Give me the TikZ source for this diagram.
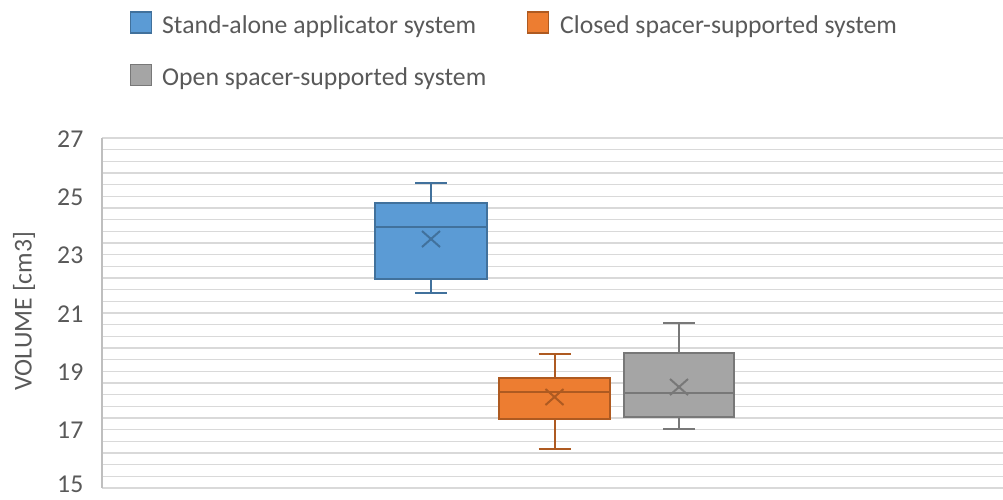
\documentclass[tikz,border=0pt]{standalone}
\usepackage{fontspec}
\setmainfont{Carlito}
\definecolor{txt}{HTML}{595959}
\definecolor{gridc}{HTML}{D9D9D9}
\definecolor{axisc}{HTML}{BFBFBF}
\definecolor{bfill}{HTML}{5B9BD5}
\definecolor{bdraw}{HTML}{41719C}
\definecolor{ofill}{HTML}{ED7D31}
\definecolor{odraw}{HTML}{AE5A21}
\definecolor{gfill}{HTML}{A5A5A5}
\definecolor{gdraw}{HTML}{787878}
\tikzset{
  lab/.style={inner sep=0pt, text=txt, font=\fontsize{25.7}{30}\selectfont},
  legsq/.style={minimum width=21pt, minimum height=21pt, inner sep=0pt, line width=1.2pt},
  boxline/.style={line width=2pt},
  gridline/.style={gridc, line width=1.6pt},
}
\begin{document}
\begin{tikzpicture}[x=1pt,y=-1pt]
\useasboundingbox (0,0) rectangle (1003,499);
% grid
\foreach \i in {0,...,30} {
  \draw[gridline] (102,{138+\i*350/30}) -- (1003,{138+\i*350/30});
}
\coordinate (axtop) at (102,138);
\coordinate (axbot) at (102,488);
\draw[axisc, line width=1.6pt] (axtop) -- (axbot);
% tick labels
\foreach \v/\yy in {27/139,25/197.3,23/255.7,21/314,19/372.3,17/430.7,15/484} {
  \node[lab, anchor=east] (t\v) at (83.5,\yy) {\v};
}
\node[lab, rotate=90] (ylab) at (24,311) {VOLUME [cm3]};
% legend
\node[legsq, fill=bfill, draw=bdraw] (lb) at (141,22.5) {};
\node[lab, anchor=base west] (lbt) at (162,33.3) {Stand-alone applicator system};
\node[legsq, fill=ofill, draw=odraw] (lo) at (538,22.5) {};
\node[lab, anchor=base west] (lot) at (560,33.3) {Closed spacer-supported system};
\node[legsq, fill=gfill, draw=gdraw] (lg) at (141,75) {};
\node[lab, anchor=base west] (lgt) at (162,85.8) {Open spacer-supported system};
% Blue
\coordinate (bwt) at (431,183);
\coordinate (bwb) at (431,293);
\draw[boxline, bdraw] (bwt) -- (431,203);
\draw[boxline, bdraw] (bwb) -- (431,279);
\draw[boxline, bdraw] (415,183) -- (447,183);
\draw[boxline, bdraw] (415,293) -- (447,293);
\draw[boxline, fill=bfill, draw=bdraw] (375,203) rectangle (487,279);
\draw[boxline, bdraw] (375,227) -- (487,227);
\coordinate (bm) at (431,239);
\draw[boxline, bdraw] ([shift={(-9,-8)}]bm) -- ([shift={(9,8)}]bm);
\draw[boxline, bdraw] ([shift={(-9,8)}]bm) -- ([shift={(9,-8)}]bm);
% Orange
\coordinate (owt) at (554.5,354);
\coordinate (owb) at (554.5,449);
\draw[boxline, odraw] (owt) -- (554.5,378);
\draw[boxline, odraw] (owb) -- (554.5,419);
\draw[boxline, odraw] (538.5,354) -- (570.5,354);
\draw[boxline, odraw] (538.5,449) -- (570.5,449);
\draw[boxline, fill=ofill, draw=odraw] (499,378) rectangle (610,419);
\draw[boxline, odraw] (499,392) -- (610,392);
\coordinate (om) at (554.5,397);
\draw[boxline, odraw] ([shift={(-9,-8)}]om) -- ([shift={(9,8)}]om);
\draw[boxline, odraw] ([shift={(-9,8)}]om) -- ([shift={(9,-8)}]om);
% Gray
\coordinate (gwt) at (679,323);
\coordinate (gwb) at (679,429);
\draw[boxline, gdraw] (gwt) -- (679,353);
\draw[boxline, gdraw] (gwb) -- (679,417);
\draw[boxline, gdraw] (663,323) -- (695,323);
\draw[boxline, gdraw] (663,429) -- (695,429);
\draw[boxline, fill=gfill, draw=gdraw] (624,353) rectangle (734,417);
\draw[boxline, gdraw] (624,393) -- (734,393);
\coordinate (gm) at (679,387);
\draw[boxline, gdraw] ([shift={(-9,-8)}]gm) -- ([shift={(9,8)}]gm);
\draw[boxline, gdraw] ([shift={(-9,8)}]gm) -- ([shift={(9,-8)}]gm);
\end{tikzpicture}
\end{document}
